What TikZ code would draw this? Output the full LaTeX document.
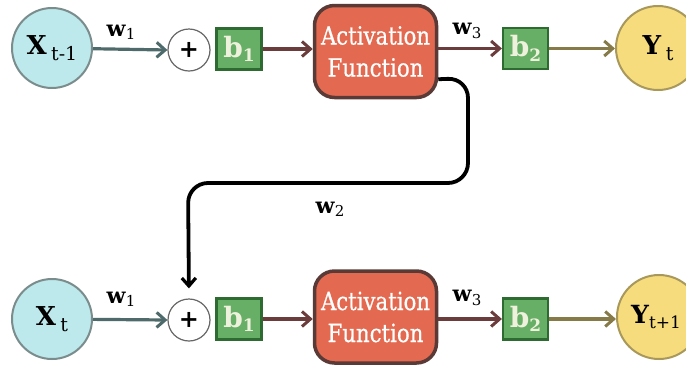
\documentclass[tikz,border=0pt]{standalone}
\usepackage{fontspec}
\setmainfont{DejaVu Serif}
\newfontfamily\actfont[FakeStretch=0.85,FakeBold=0.6]{DejaVu Serif}
\usetikzlibrary{arrows.meta,calc}
\definecolor{xfill}{HTML}{BEE9EC}
\definecolor{xdraw}{HTML}{7A8C8C}
\definecolor{yfill}{HTML}{F6DC7C}
\definecolor{ydraw}{HTML}{A8985C}
\definecolor{bfill}{HTML}{67AE66}
\definecolor{bdraw}{HTML}{2E6B30}
\definecolor{btext}{HTML}{EEF2DC}
\definecolor{afill}{HTML}{E36A50}
\definecolor{adraw}{HTML}{5A3A36}
\definecolor{arrA}{HTML}{4E6A6A}
\definecolor{arrB}{HTML}{6B3C3C}
\definecolor{arrC}{HTML}{857A48}
\newcommand{\xlab}[2]{\fontsize{26}{28}\selectfont\textbf{#1}\,\raisebox{-0.4ex}{\fontsize{19}{20}\selectfont #2}}
\newcommand{\ylabtight}[2]{\fontsize{25}{28}\selectfont\textbf{#1}\raisebox{-0.4ex}{\fontsize{17}{20}\selectfont #2}}
\newcommand{\wlab}[1]{\fontsize{22}{24}\selectfont\textbf{w}\raisebox{-0.3ex}{\fontsize{15}{16}\selectfont #1}}
\newcommand{\blab}[1]{\fontsize{28}{30}\selectfont\textbf{b}\raisebox{-0.3ex}{\fontsize{17}{18}\selectfont\textbf{#1}}}
\tikzset{
  xnode/.style={circle,fill=xfill,draw=xdraw,line width=2pt,minimum size=80pt,inner sep=0pt},
  ynode/.style={circle,fill=yfill,draw=ydraw,line width=2pt,minimum size=84pt,inner sep=0pt},
  plusnode/.style={circle,draw=gray!80!black,line width=1.2pt,fill=white,minimum size=42pt,inner sep=0pt,font=\fontsize{24}{24}\selectfont\bfseries},
  bnode/.style={rectangle,fill=bfill,draw=bdraw,line width=2.2pt,minimum width=45pt,minimum height=41pt,inner sep=0pt,text=btext},
  actnode/.style={rectangle,rounded corners=20pt,fill=afill,draw=adraw,line width=3.5pt,minimum width=122pt,minimum height=92pt,inner sep=0pt,text=white,align=center,font=\actfont\fontsize{25}{32}\selectfont},
  conn/.style={line width=3.2pt,-{Straight Barb[length=8.5pt,width=15pt,line width=3pt]}},
  wl/.style={inner sep=0pt}
}
\begin{document}
\begin{tikzpicture}[x=1pt,y=-1pt]
\useasboundingbox (0,0) rectangle (686,368);
% top row
\node[xnode] (x1) at (52,48) {\xlab{X}{t-1}};
\node[plusnode] (p1) at (189,50) {+};
\node[bnode] (b11) at (239,49) {\blab{1}};
\node[actnode] (a1) at (375.5,51.5) {Activation\\Function};
\node[bnode] (b21) at (525.5,48.5) {\blab{2}};
\node[ynode] (y1) at (658,48) {\xlab{Y}{t}};
% bottom row
\node[xnode] (x2) at (52,319) {\xlab{X}{t}};
\node[plusnode] (p2) at (189,320) {+};
\node[bnode] (b12) at (239,319) {\blab{1}};
\node[actnode] (a2) at (375.5,317) {Activation\\Function};
\node[bnode] (b22) at (525.5,319) {\blab{2}};
\node[ynode] (y2) at (659,317) {\hspace*{-6pt}\ylabtight{Y}{t+1}};
% connectors top
\draw[conn,draw=arrA] (x1) -- (p1.west);
\draw[conn,draw=arrB] (b11.east) -- (a1.west|-b11.east);
\draw[conn,draw=arrB] (a1.east|-b21.west) -- (b21.west);
\draw[conn,draw=arrC] (b21.east) -- (y1.west|-b21.east);
% connectors bottom
\draw[conn,draw=arrA] (x2) -- (p2.west);
\draw[conn,draw=arrB] (b12.east) -- (a2.west|-b12.east);
\draw[conn,draw=arrB] (a2.east|-b22.west) -- (b22.west);
\draw[conn,draw=arrC] (b22.east) -- (y2.west|-b22.east);
% feedback
\coordinate (fbstart) at ($(a1.south east)+(0,-20)$);
\draw[line width=3.8pt,rounded corners=20pt,-{Straight Barb[length=8pt,width=14pt,line width=3.2pt]},shorten >=10pt]
  (fbstart) -- (468,78) -- (468,183) -- (188,183) -- (p2.north);
% labels
\node[wl] (w1a) at (121,32) {\wlab{1}};
\node[wl] (w3a) at (467,31) {\wlab{3}};
\node[wl] (w2) at (330,209) {\wlab{2}};
\node[wl] (w1b) at (121,299) {\wlab{1}};
\node[wl] (w3b) at (467,298) {\wlab{3}};
\end{tikzpicture}
\end{document}
